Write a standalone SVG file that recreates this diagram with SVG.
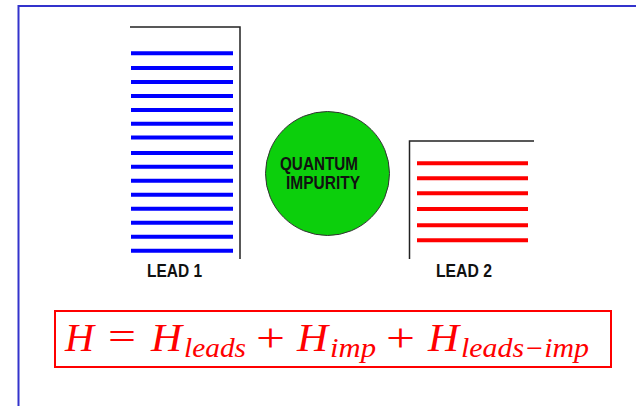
<svg xmlns="http://www.w3.org/2000/svg" width="636" height="406" viewBox="0 0 636 406">
<style>
.frame{fill:none;stroke:#3333cc;stroke-width:2}
.wall{fill:none;stroke:#222;stroke-width:1.5}
.blue{stroke:#0000ff;stroke-width:4}
.red{stroke:#ff0000;stroke-width:4}
.lbl{font-family:"Liberation Sans",Arial,sans-serif;font-weight:bold;font-size:18px;fill:#111}
.eq{font-family:"Liberation Serif","Times New Roman",serif;fill:#ff0000}
.it{font-style:italic}
</style>
<rect width="636" height="406" fill="#ffffff"/>
<rect class="frame" x="18.5" y="6" width="640" height="420"/>
<g id="lead1">
<path class="wall" d="M130,27 H240 V259"/>
<g class="blue">
<line x1="131" y1="53.3" x2="233" y2="53.3"/>
<line x1="131" y1="68" x2="233" y2="68"/>
<line x1="131" y1="82" x2="233" y2="82"/>
<line x1="131" y1="96" x2="233" y2="96"/>
<line x1="131" y1="110" x2="233" y2="110"/>
<line x1="131" y1="123.7" x2="233" y2="123.7"/>
<line x1="131" y1="137.5" x2="233" y2="137.5"/>
<line x1="131" y1="153" x2="233" y2="153"/>
<line x1="131" y1="166.7" x2="233" y2="166.7"/>
<line x1="131" y1="180.7" x2="233" y2="180.7"/>
<line x1="131" y1="194.7" x2="233" y2="194.7"/>
<line x1="131" y1="208.7" x2="233" y2="208.7"/>
<line x1="131" y1="222.7" x2="233" y2="222.7"/>
<line x1="131" y1="236.7" x2="233" y2="236.7"/>
<line x1="131" y1="250.7" x2="233" y2="250.7"/>
</g>
<text class="lbl" x="147" y="277" textLength="55" lengthAdjust="spacingAndGlyphs">LEAD 1</text>
</g>
<g id="impurity">
<circle cx="327.5" cy="173.5" r="62" fill="#0ccf0c" stroke="#333" stroke-width="1"/>
<text class="lbl" x="280" y="169.5" textLength="78" lengthAdjust="spacingAndGlyphs">QUANTUM</text>
<text class="lbl" x="286" y="188.5" textLength="74" lengthAdjust="spacingAndGlyphs">IMPURITY</text>
</g>
<g id="lead2">
<path class="wall" d="M409.5,259 V141 H534"/>
<g class="red">
<line x1="417" y1="163.3" x2="528" y2="163.3"/>
<line x1="417" y1="178.3" x2="528" y2="178.3"/>
<line x1="417" y1="193.3" x2="528" y2="193.3"/>
<line x1="417" y1="209" x2="528" y2="209"/>
<line x1="417" y1="225.3" x2="528" y2="225.3"/>
<line x1="417" y1="240.3" x2="528" y2="240.3"/>
</g>
<text class="lbl" x="436" y="277" textLength="56" lengthAdjust="spacingAndGlyphs">LEAD 2</text>
</g>
<g id="hamiltonian">
<rect x="55" y="311" width="556" height="56" fill="none" stroke="#ff0000" stroke-width="2"/>
<text class="eq it" x="65" y="351" font-size="40" textLength="29" lengthAdjust="spacingAndGlyphs">H</text>
<text class="eq" x="108" y="350" font-size="40" textLength="28" lengthAdjust="spacingAndGlyphs">=</text>
<text class="eq it" x="151" y="351" font-size="40" textLength="31" lengthAdjust="spacingAndGlyphs">H</text>
<text class="eq it" x="184" y="357" font-size="27" textLength="62" lengthAdjust="spacingAndGlyphs">leads</text>
<text class="eq" x="256" y="351" font-size="40" textLength="29" lengthAdjust="spacingAndGlyphs">+</text>
<text class="eq it" x="297" y="351" font-size="40" textLength="31" lengthAdjust="spacingAndGlyphs">H</text>
<text class="eq it" x="330" y="357" font-size="27" textLength="46" lengthAdjust="spacingAndGlyphs">imp</text>
<text class="eq" x="386" y="351" font-size="40" textLength="29" lengthAdjust="spacingAndGlyphs">+</text>
<text class="eq it" x="428" y="351" font-size="40" textLength="31" lengthAdjust="spacingAndGlyphs">H</text>
<text class="eq it" x="461" y="357" font-size="27" textLength="128" lengthAdjust="spacingAndGlyphs">leads−imp</text>
</g>
</svg>
